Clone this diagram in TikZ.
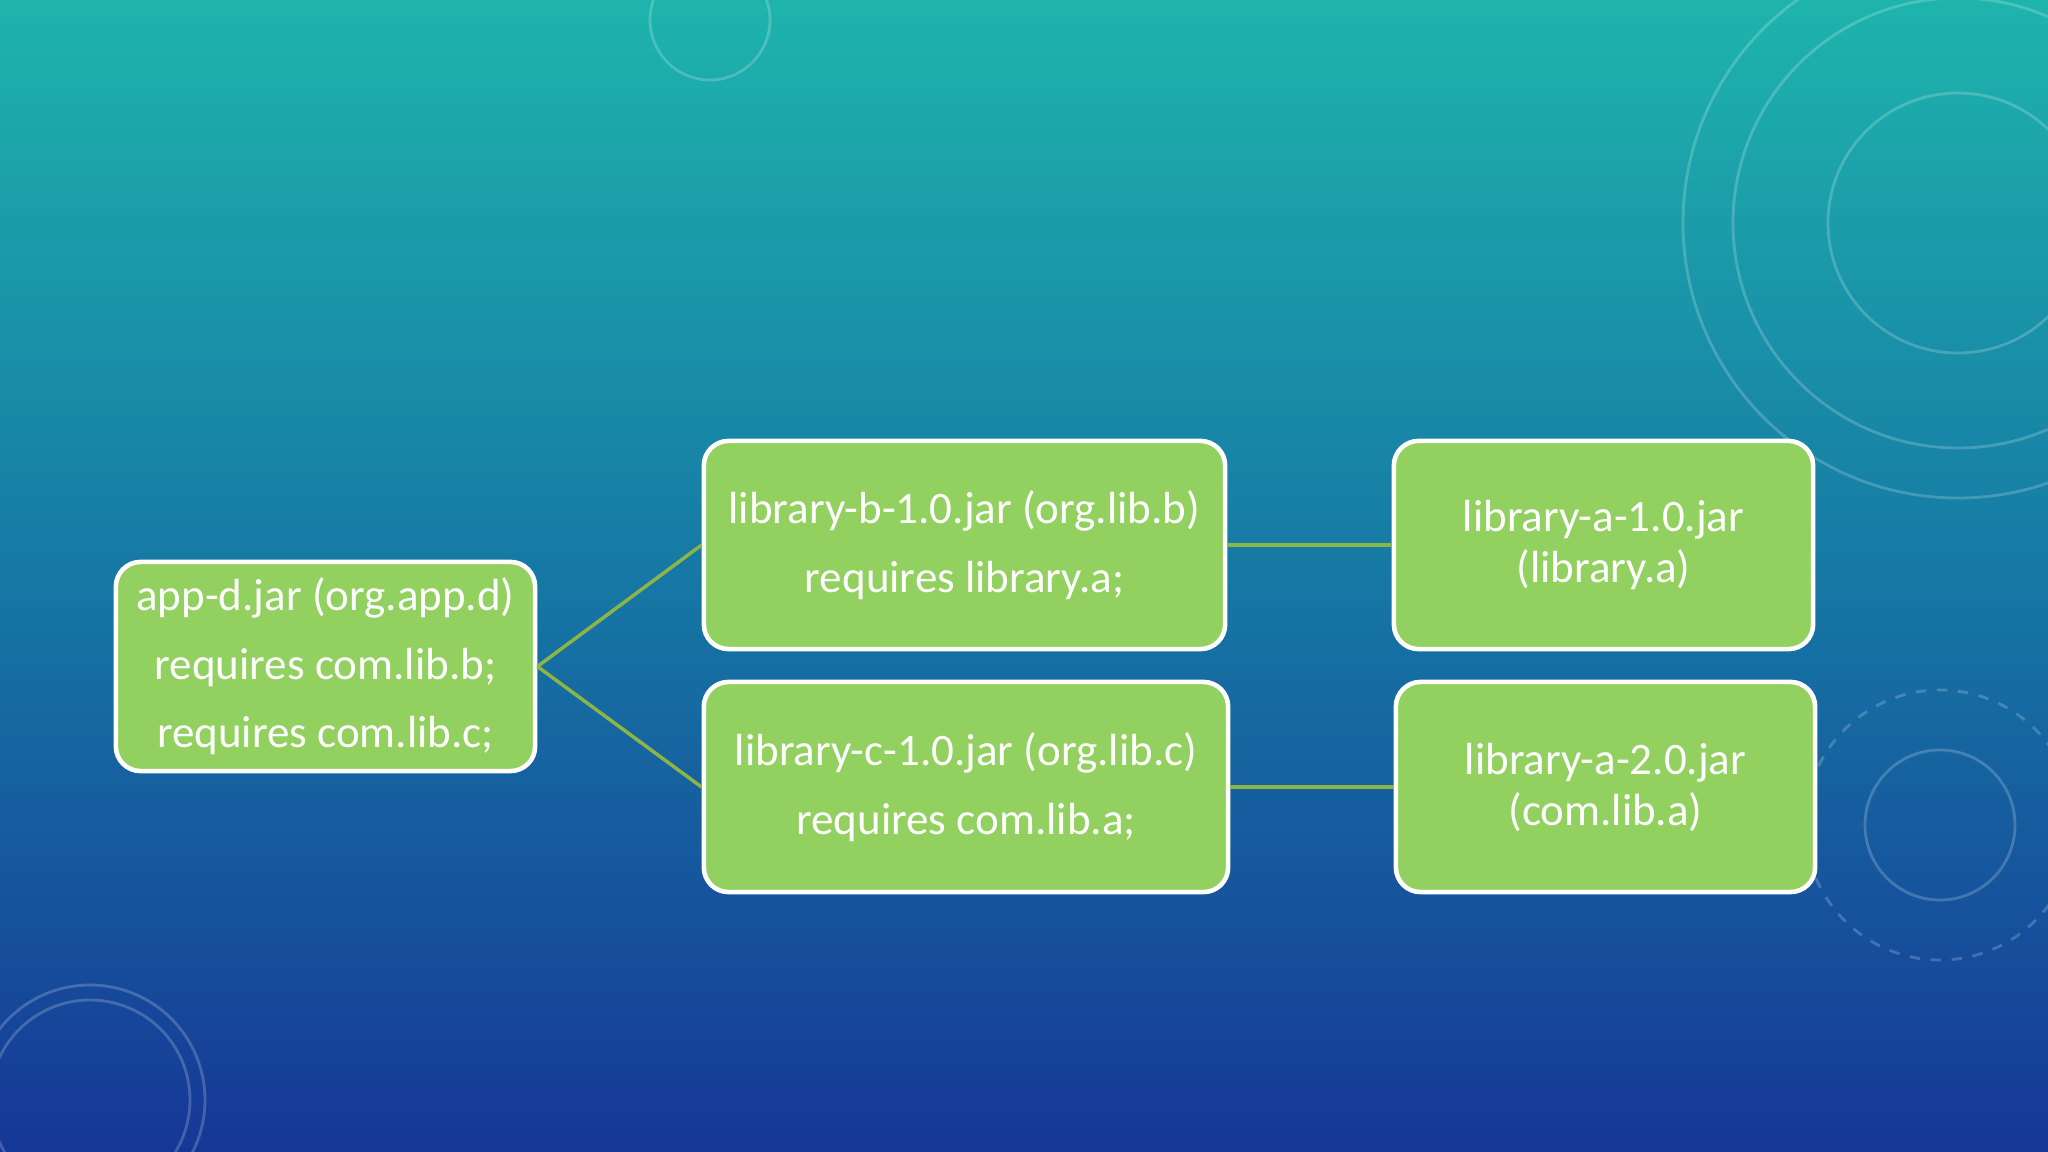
\documentclass[tikz,border=0pt]{standalone}
\usepackage{fontspec}
\setmainfont{Carlito}
\definecolor{boxgreen}{RGB}{146,208,96}
\definecolor{linegreen}{RGB}{140,180,70}
\definecolor{bgtop}{RGB}{30,180,172}
\definecolor{bgmid}{RGB}{22,120,165}
\definecolor{bgbot}{RGB}{22,55,150}
\begin{document}
\begin{tikzpicture}[x=0.01cm,y=-0.01cm,
  box/.style={draw=white,line width=1.3pt,fill=boxgreen,rounded corners=7pt,
    text=white,align=center,font=\fontsize{12.8pt}{19.5pt}\selectfont,inner sep=0pt},
  link/.style={draw=linegreen,line width=1pt},
  deco/.style={draw=white,opacity=0.2,line width=0.8pt}]
\useasboundingbox (0,0) rectangle (2048,1152);
\shade[top color=bgtop,bottom color=bgbot,middle color=bgmid] (0,0) rectangle (2048,1152);
% faint decorations
\draw[deco] (1958,223) circle (130);
\draw[deco] (1958,223) circle (225);
\draw[deco] (1958,223) circle (275);
\draw[deco] (1940,825) circle (75);
\draw[deco,dashed] (1940,825) circle (135);
\draw[deco] (90,1100) circle (100);
\draw[deco] (90,1100) circle (115);
\draw[deco] (710,20) circle (60);
\node[box,minimum width=4.19cm,minimum height=2.09cm] (app) at (325.5,666.5) {app-d.jar (org.app.d)\\requires com.lib.b;\\requires com.lib.c;};
\node[box,minimum width=5.21cm,minimum height=2.08cm] (b) at (964.5,545) {library-b-1.0.jar (org.lib.b)\\requires library.a;};
\node[box,minimum width=5.24cm,minimum height=2.10cm] (c) at (966,787) {library-c-1.0.jar (org.lib.c)\\requires com.lib.a;};
\node[box,minimum width=4.19cm,minimum height=2.08cm,font=\fontsize{12.8pt}{14.5pt}\selectfont] (a1) at (1603.5,545) {library-a-1.0.jar\\(library.a)};
\node[box,minimum width=4.19cm,minimum height=2.10cm,font=\fontsize{12.8pt}{14.5pt}\selectfont] (a2) at (1605.5,787) {library-a-2.0.jar\\(com.lib.a)};
\draw[link] (app.east) -- (b.west);
\draw[link] (app.east) -- (c.west);
\draw[link] (b.east) -- (a1.west);
\draw[link] (c.east) -- (a2.west);
\end{tikzpicture}
\end{document}
